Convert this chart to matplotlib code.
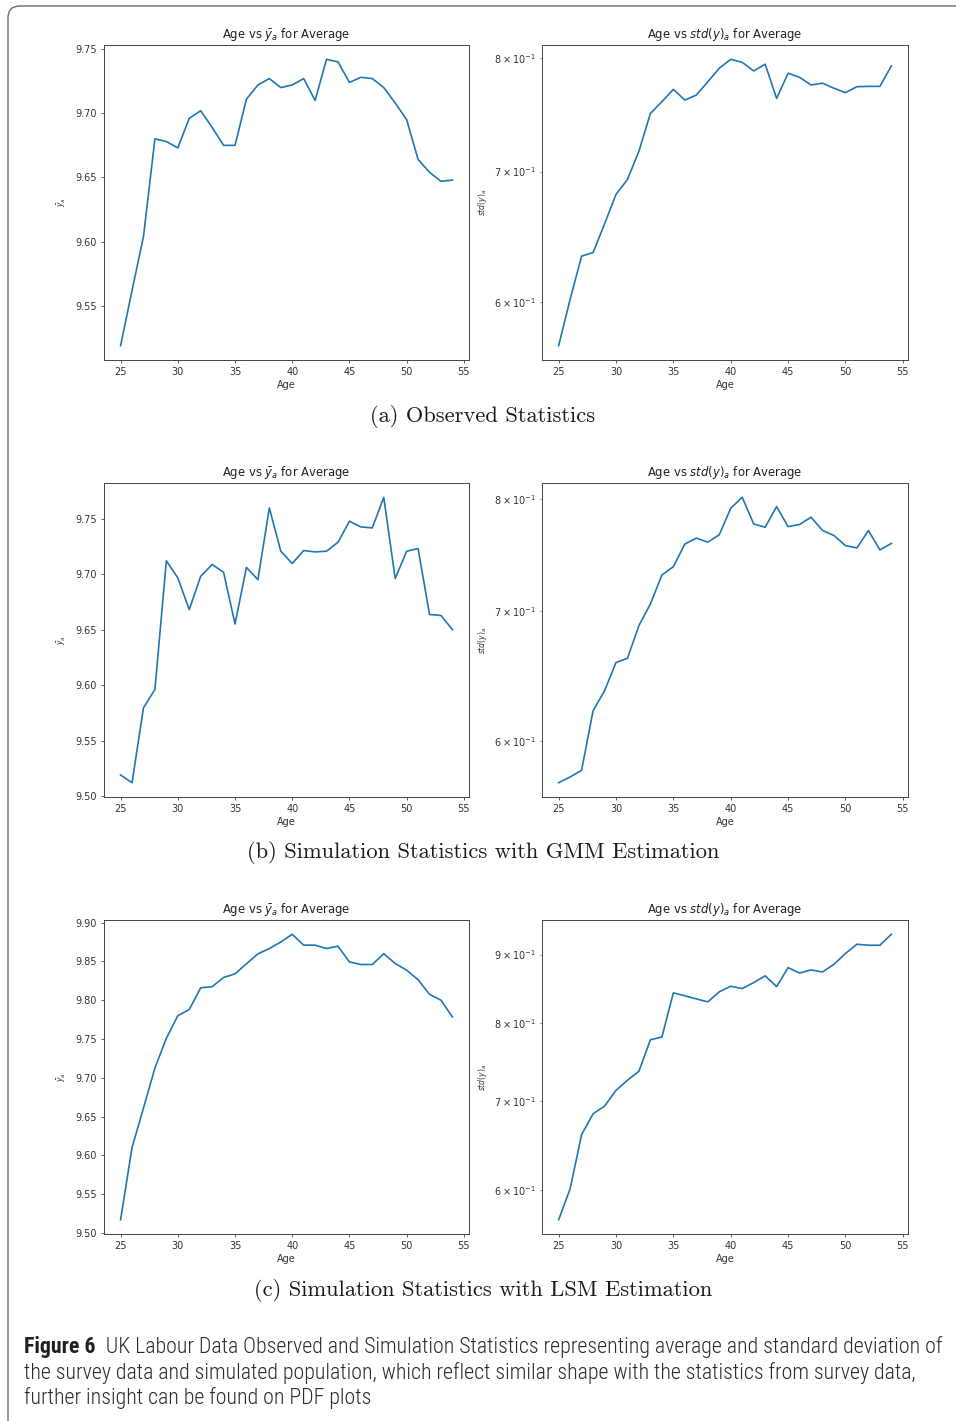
import matplotlib
matplotlib.use("Agg")
import matplotlib.pyplot as plt
from matplotlib.patches import FancyBboxPatch
from matplotlib.transforms import IdentityTransform
from matplotlib import font_manager

# ---------------------------------------------------------------- data
ages = list(range(25, 55))

obs_mean = [9.519, 9.562, 9.604, 9.680, 9.678, 9.673, 9.696, 9.702, 9.689, 9.675,
            9.675, 9.711, 9.722, 9.727, 9.720, 9.722, 9.727, 9.710, 9.742, 9.740,
            9.724, 9.728, 9.727, 9.720, 9.708, 9.695, 9.664, 9.654, 9.647, 9.648]
obs_std = [0.570, 0.602, 0.6335, 0.6362, 0.658, 0.6814, 0.6935, 0.7171, 0.7497, 0.7601,
           0.7713, 0.7616, 0.7661, 0.7782, 0.7907, 0.7991, 0.7963, 0.7882, 0.7945, 0.7631,
           0.7861, 0.7823, 0.7753, 0.7769, 0.7723, 0.7683, 0.7737, 0.774, 0.774, 0.7929]

gmm_mean = [9.519, 9.512, 9.5795, 9.596, 9.712, 9.6966, 9.668, 9.698, 9.7086, 9.7017,
            9.655, 9.706, 9.695, 9.7596, 9.7206, 9.7095, 9.7212, 9.720, 9.7206, 9.7287,
            9.7476, 9.7425, 9.7416, 9.7692, 9.696, 9.7206, 9.723, 9.6636, 9.6627, 9.650]
gmm_std = [0.5709, 0.5748, 0.5794, 0.6218, 0.6368, 0.6585, 0.6618, 0.6881, 0.7060, 0.7306,
           0.7379, 0.7580, 0.7634, 0.7597, 0.7664, 0.7909, 0.8013, 0.7763, 0.7733, 0.7925,
           0.7739, 0.7758, 0.7826, 0.7703, 0.7657, 0.7566, 0.7545, 0.7703, 0.7527, 0.7586]

lsm_mean = [9.517, 9.610, 9.661, 9.7126, 9.751, 9.780, 9.788, 9.816, 9.8174, 9.8293,
            9.834, 9.847, 9.8597, 9.8666, 9.875, 9.885, 9.871, 9.871, 9.8666, 9.8696,
            9.8494, 9.846, 9.846, 9.860, 9.8473, 9.8387, 9.8264, 9.8075, 9.800, 9.7784]
lsm_std = [0.5706, 0.6017, 0.6604, 0.6845, 0.6936, 0.7126, 0.7252, 0.7365, 0.7774, 0.7810,
           0.8427, 0.8384, 0.8340, 0.8297, 0.8441, 0.8523, 0.8489, 0.8577, 0.8676, 0.8518,
           0.8800, 0.8719, 0.8765, 0.8734, 0.8851, 0.9016, 0.9161, 0.9145, 0.9145, 0.9319]

panel_captions = ["(a) Observed Statistics",
                  "(b) Simulation Statistics with GMM Estimation",
                  "(c) Simulation Statistics with LSM Estimation"]
mean_title = r"Age vs $\bar{y}_a$ for Average"
std_title = r"Age vs $std(y)_a$ for Average"
mean_ylabel = r"$\bar{y}_a$"
std_ylabel = r"$std(y)_a$"
x_label = "Age"

fig_label = "Figure 6"
fig_caption = ["  UK Labour Data Observed and Simulation Statistics representing average and standard deviation of",
               "the survey data and simulated population, which reflect similar shape with the statistics from survey data,",
               "further insight can be found on PDF plots"]

# ---------------------------------------------------------------- style
W, H = 956, 1421
DPI = 100
plt.rcParams.update({
    "font.family": "DejaVu Sans",
    "mathtext.fontset": "dejavusans",
    "axes.edgecolor": "#444444",
    "axes.linewidth": 0.7,
    "xtick.color": "#444444",
    "ytick.color": "#444444",
    "xtick.labelcolor": "#333333",
    "ytick.labelcolor": "#333333",
    "xtick.major.size": 2.5,
    "ytick.major.size": 2.5,
    "ytick.minor.size": 1.5,
    "xtick.major.width": 0.6,
    "ytick.major.width": 0.6,
    "ytick.minor.width": 0.5,
    "xtick.labelsize": 7,
    "ytick.labelsize": 7,
    "xtick.major.pad": 2.5,
    "ytick.major.pad": 2.5,
    "ytick.minor.pad": 2.5,
})

fig = plt.figure(figsize=(W / DPI, H / DPI), dpi=DPI)
fig.patch.set_facecolor("white")

# rounded frame around the figure block (runs off the right and bottom edges)
frame = FancyBboxPatch((8, -60), 1100, H - 6 + 60,
                       boxstyle="round,pad=0,rounding_size=12",
                       transform=IdentityTransform(), facecolor="none",
                       edgecolor="#6a6a6a", linewidth=1.0)
fig.patches.append(frame)


def px_axes(left, top, right, bottom):
    return fig.add_axes([left / W, 1 - bottom / H, (right - left) / W, (bottom - top) / H])


rows = [(obs_mean, obs_std, 45, 360), (gmm_mean, gmm_std, 483, 797),
        (lsm_mean, lsm_std, 920, 1234)]
caption_y = [416, 853, 1290]

for (mean_vals, std_vals, top, bottom), cap, cy in zip(rows, panel_captions, caption_y):
    ax1 = px_axes(104, top, 469, bottom)
    ax1.plot(ages, mean_vals, color="#1f77b4", lw=1.2)
    ax1.set_title(mean_title, fontsize=8.4, color="#222222", pad=5)
    ax1.set_xlabel(x_label, fontsize=7, color="#333333", labelpad=2)
    ax1.set_ylabel(mean_ylabel, fontsize=5.5, color="#333333", labelpad=5)
    ax1.set_xticks([25, 30, 35, 40, 45, 50, 55])

    ax2 = px_axes(542, top, 908, bottom)
    ax2.plot(ages, std_vals, color="#1f77b4", lw=1.2)
    ax2.set_yscale("log")
    ax2.set_title(std_title, fontsize=8.4, color="#222222", pad=5)
    ax2.set_xlabel(x_label, fontsize=7, color="#333333", labelpad=2)
    ax2.set_ylabel(std_ylabel, fontsize=5.5, color="#333333", labelpad=4)
    ax2.set_xticks([25, 30, 35, 40, 45, 50, 55])

    fig.text(483 / W, 1 - cy / H, cap, family="cmr10", fontsize=16.2,
             color="#1a1a1a", ha="center", va="center")


# ---------------------------------------------------------------- caption
def pick_family(names):
    have = {f.name for f in font_manager.fontManager.ttflist}
    for n in names:
        if n in have:
            return n
    return "DejaVu Sans"


cap_family = pick_family(["Liberation Sans Narrow", "Roboto Condensed",
                          "Open Sans Condensed", "Roboto", "Open Sans"])
cap_color = "#2b2b2b"
renderer = fig.canvas.get_renderer()

line_y = [1347, 1373, 1398]
x0 = 24
target_right = 946
size = 12.0


def draw_caption(fs):
    arts = []
    t0 = fig.text(x0 / W, 1 - line_y[0] / H, fig_label, family=cap_family,
                  fontsize=fs, weight="bold", color="#231f20", va="center", ha="left")
    arts.append(t0)
    bb = t0.get_window_extent(renderer)
    t1 = fig.text(bb.x1 / W, 1 - line_y[0] / H, fig_caption[0], family=cap_family,
                  fontsize=fs, weight="light", color=cap_color, va="center", ha="left")
    arts.append(t1)
    for txt, yy in zip(fig_caption[1:], line_y[1:]):
        arts.append(fig.text(x0 / W, 1 - yy / H, txt, family=cap_family, fontsize=fs,
                             weight="light", color=cap_color, va="center", ha="left"))
    return arts, t1.get_window_extent(renderer).x1


arts, right = draw_caption(size)
size *= (target_right - x0) / (right - x0)
for a in arts:
    a.remove()
draw_caption(size)

fig.savefig("out.png", dpi=DPI, facecolor="white")
